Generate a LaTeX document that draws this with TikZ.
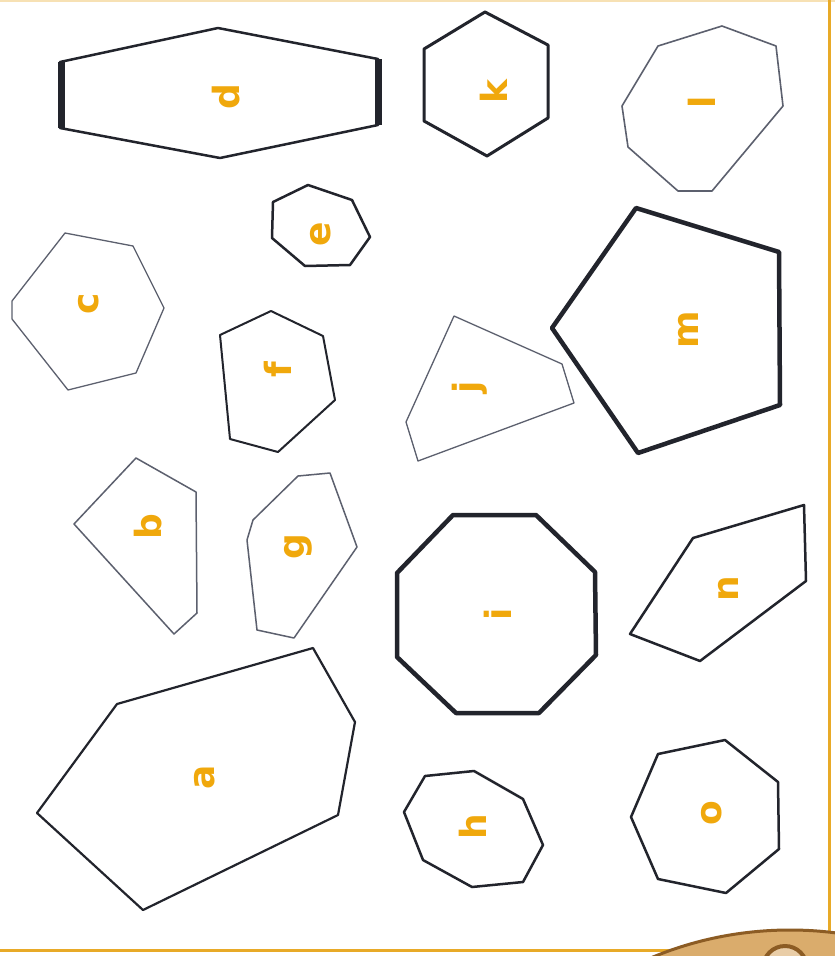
\documentclass[tikz,border=0pt]{standalone}
\usepackage{fontspec}
\setsansfont{DejaVu Sans}
\definecolor{letterorange}{RGB}{240,168,12}
\definecolor{frameorange}{RGB}{232,170,40}
\definecolor{inkdark}{RGB}{34,36,44}
\definecolor{inkgray}{RGB}{92,96,110}
\definecolor{tan}{RGB}{218,172,108}
\definecolor{tanedge}{RGB}{140,92,36}
\begin{document}
\begin{tikzpicture}[x=1pt,y=-1pt,line join=round,
		edge/.style={draw=inkdark,line width=#1},
		faint/.style={draw=inkgray,line width=#1},
		letter/.style={text=letterorange,font=\sffamily\bfseries\fontsize{36}{36}\selectfont,rotate=90,inner sep=0pt}]
		%page
			\useasboundingbox (0,0) rectangle (835,956);
			\clip (0,0) rectangle (835,956);
			\fill[white] (0,0) rectangle (835,956);
			\draw[frameorange!35,line width=2] (0,1) -- (835,1);
			\draw[frameorange,line width=3] (829,0) -- (829,956);
			\draw[frameorange,line width=3] (0,950) -- (700,950);
			\draw[tanedge,fill=tan,line width=3] (790,1290) circle (360);
			\draw[tanedge,fill=tan!60,line width=4] (785,968) circle (22);
		%top row
			\draw[edge=2.5] (60,62) -- (218,28) -- (378,59) -- (378,125) -- (220,158) -- (60,128) -- cycle;
			\draw[edge=7] (61,62) -- (61,128);
			\draw[edge=7] (378,59) -- (378,125);
			\node[letter] (d) at (226,97) {d};
			\draw[edge=3] (485,12) -- (548,45) -- (548,118) -- (487,156) -- (424,121) -- (424,49) -- cycle;
			\node[letter] (k) at (494,92) {k};
			\draw[faint=1.6] (658,46) -- (722,26) -- (776,46) -- (783,106) -- (712,191) -- (678,191) -- (628,147) -- (622,106) -- cycle;
			\node[letter] (l) at (702,102) {l};
		%second row
			\draw[edge=2.5] (308,185) -- (352,200) -- (370,237) -- (350,265) -- (305,266) -- (272,238) -- (273,202) -- cycle;
			\node[letter] (e) at (321,234) {e};
			\draw[faint=1.3] (65,233) -- (133,246) -- (164,308) -- (136,373) -- (68,390) -- (12,319) -- (12,301) -- cycle;
			\node[letter] (c) at (89,304) {c};
			\draw[edge=2] (271,311) -- (323,336) -- (335,400) -- (278,452) -- (230,439) -- (220,335) -- cycle;
			\node[letter] (f) at (278,370) {f};
			\draw[faint=1.3] (454,316) -- (562,364) -- (574,403) -- (418,461) -- (406,422) -- cycle;
			\node[letter] (j) at (470,387) {j};
			\draw[edge=4.5] (636,208) -- (779,252) -- (780,405) -- (638,453) -- (552,328) -- cycle;
			\node[letter] (m) at (688,330) {m};
		%third row
			\draw[faint=1.5] (136,458) -- (196,492) -- (197,613) -- (174,634) -- (74,524) -- cycle;
			\node[letter] (b) at (148,527) {b};
			\draw[faint=1.5] (298,476) -- (330,473) -- (357,547) -- (294,638) -- (257,630) -- (247,540) -- (253,520) -- cycle;
			\node[letter] (g) at (298,547) {g};
			\draw[edge=4.5] (453,515) -- (536,515) -- (595,572) -- (596,655) -- (539,713) -- (456,713) -- (397,657) -- (397,573) -- cycle;
			\node[letter] (i) at (498,614) {i};
			\draw[edge=2.5] (693,538) -- (804,505) -- (806,581) -- (700,661) -- (630,634) -- cycle;
			\node[letter] (n) at (728,589) {n};
		%bottom row
			\draw[edge=2.2] (117,704) -- (313,648) -- (355,722) -- (338,815) -- (143,910) -- (37,813) -- cycle;
			\node[letter] (a) at (205,777) {a};
			\draw[edge=2.5] (425,776) -- (474,771) -- (523,799) -- (543,845) -- (523,882) -- (472,887) -- (423,860) -- (404,812) -- cycle;
			\node[letter] (h) at (473,827) {h};
			\draw[edge=2.5] (658,754) -- (725,740) -- (778,782) -- (779,849) -- (726,893) -- (658,879) -- (631,817) -- cycle;
			\node[letter] (o) at (712,813) {o};
	\end{tikzpicture}
\end{document}
